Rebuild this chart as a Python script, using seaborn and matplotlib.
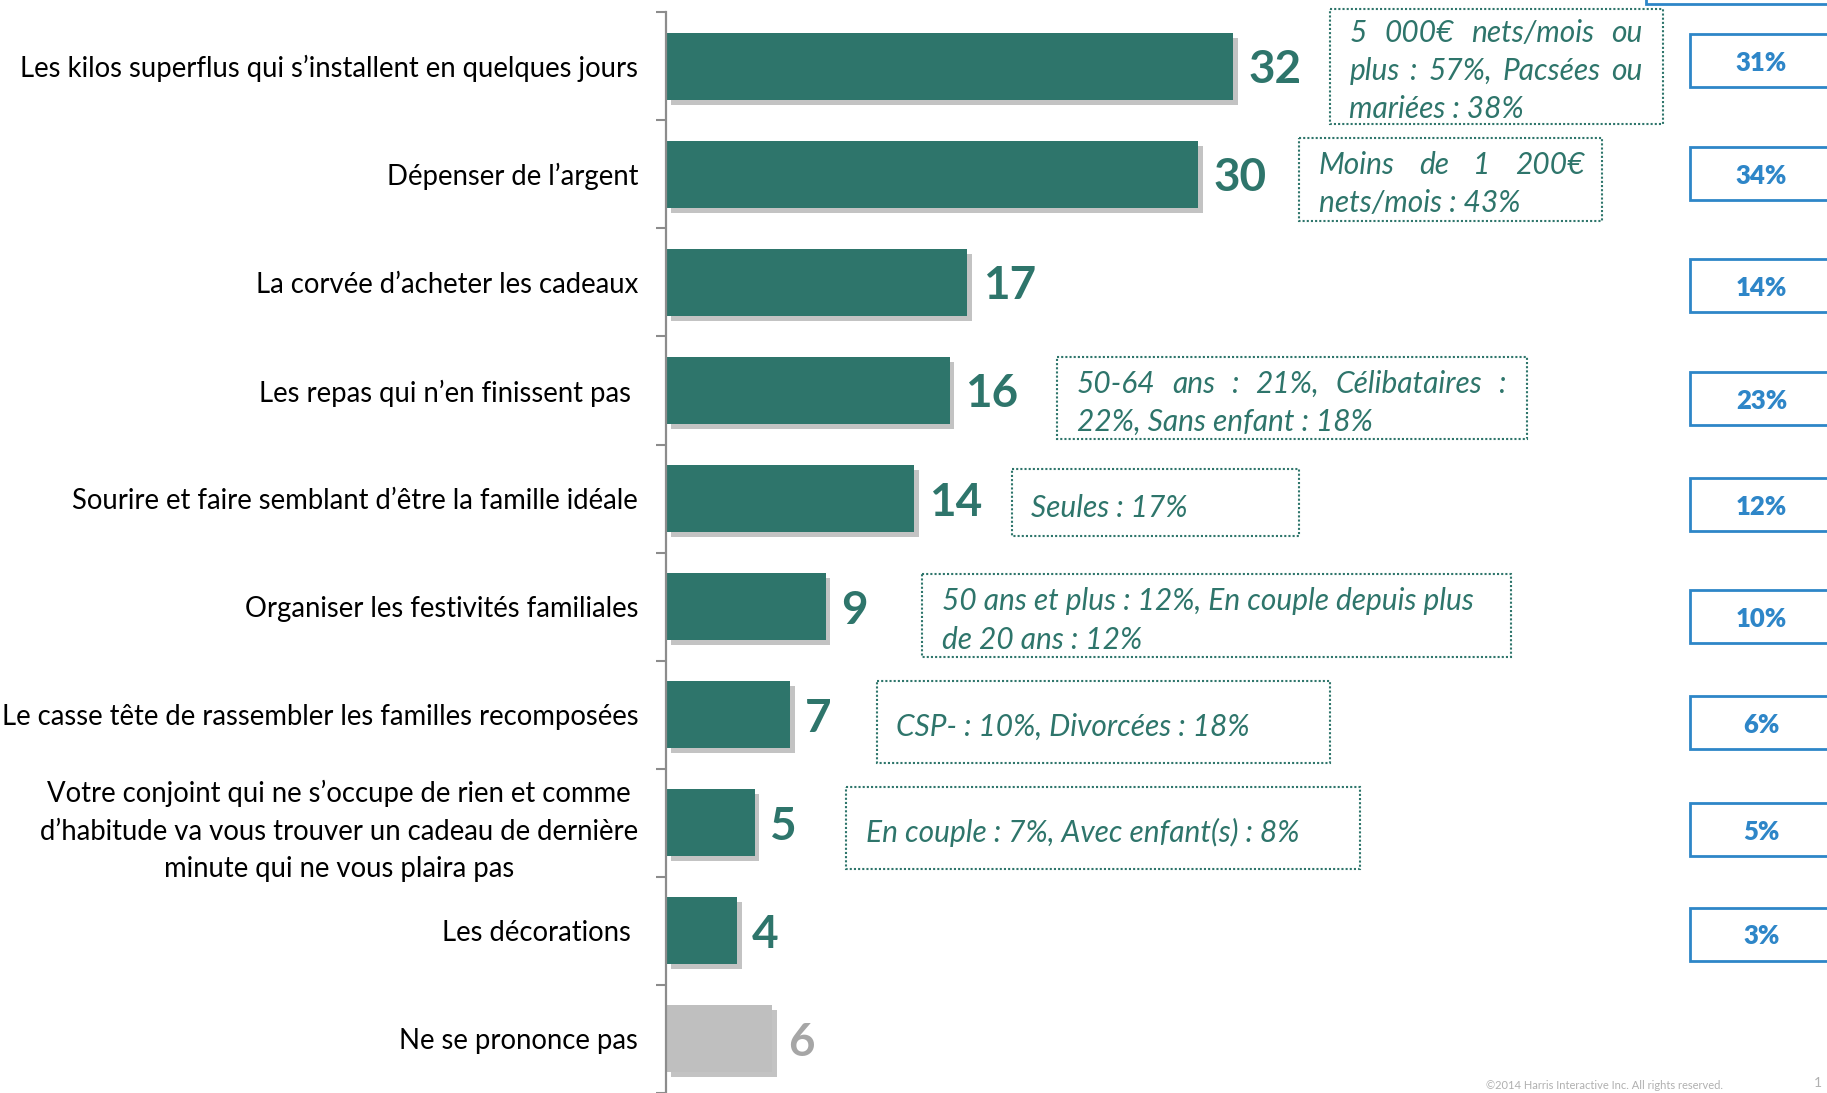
import numpy as np
import pandas as pd
import matplotlib
matplotlib.use("Agg")
import matplotlib.pyplot as plt
import matplotlib.patheffects as pe
from matplotlib.patches import Rectangle
import seaborn as sns

# ---------------- data ----------------
categories = [
    "Les kilos superflus qui s\u2019installent en quelques jours",
    "D\u00e9penser de l\u2019argent",
    "La corv\u00e9e d\u2019acheter les cadeaux",
    "Les repas qui n\u2019en finissent pas ",
    "Sourire et faire semblant d\u2019\u00eatre la famille id\u00e9ale",
    "Organiser les festivit\u00e9s familiales",
    "Le casse t\u00eate de rassembler les familles recompos\u00e9es",
    "Votre conjoint qui ne s\u2019occupe de rien et comme\nd\u2019habitude va vous trouver un cadeau de derni\u00e8re\nminute qui ne vous plaira pas",
    "Les d\u00e9corations ",
    "Ne se prononce pas",
]
values = [32, 30, 17, 16, 14, 9, 7, 5, 4, 6]
groups = ["main"] * 9 + ["nsp"]
comparison = ["31%", "34%", "14%", "23%", "12%", "10%", "6%", "5%", "3%", None]

ann_rows = [0, 1, 3, 4, 5, 6, 7]
ann_lines = [
    ["5 000\u20ac nets/mois ou", "plus : 57%, Pacs\u00e9es ou", "mari\u00e9es : 38%"],
    ["Moins de 1 200\u20ac", "nets/mois : 43%"],
    ["50-64 ans : 21%, C\u00e9libataires :", "22%, Sans enfant : 18%"],
    ["Seules : 17%"],
    ["50 ans et plus : 12%, En couple depuis plus", "de 20 ans : 12%"],
    ["CSP- : 10%, Divorc\u00e9es : 18%"],
    ["En couple : 7%, Avec enfant(s) : 8%"],
]

# ---------------- layout (not data) ----------------
ann_boxes = [  # x0, x1, y0, y1 in data units
    (37.45, 56.24, -0.53, 0.53),
    (35.74, 52.83, 0.66, 1.43),
    (22.08, 48.55, 2.69, 3.45),
    (19.51, 35.74, 3.73, 4.35),
    (14.45, 47.70, 4.70, 5.47),
    (11.89, 37.45, 5.69, 6.45),
    (10.18, 39.16, 6.67, 7.43),
]
ann_justify_right = [55.1, 51.8, 47.4, None, None, None, None]
comp_offsets = [-0.05, -0.005, 0.03, 0.075, 0.055, 0.095, 0.075, 0.065, 0.03, 0]

TEAL = "#2e756b"
GREY_BAR = "#bfbfbf"
GREY_TXT = "#a6a6a6"
BLUE = "#2e86c8"

sns.set_theme(style="white")
plt.rcParams["font.family"] = ["Lato", "DejaVu Sans"]

W, H = 1827, 1093
fig = plt.figure(figsize=(W / 100, H / 100), dpi=100)
ax_left = 666 / W
ax_top = 1 - 12.2 / H
ax = fig.add_axes([ax_left, 0, 1 - ax_left, ax_top])

df = pd.DataFrame({"cat": categories, "val": values, "grp": groups})
sns.barplot(data=df, x="val", y="cat", hue="grp", dodge=False, width=0.62,
            palette={"main": TEAL, "nsp": GREY_BAR}, legend=False, ax=ax,
            saturation=1, edgecolor="none")

for p in ax.patches:
    p.set_path_effects([pe.SimplePatchShadow(offset=(3.5, -3.5), shadow_rgbFace="#7a7a7a", alpha=0.45),
                        pe.Normal()])

for cont in ax.containers:
    labels = ax.bar_label(cont, padding=11, fontsize=33, fontweight="bold", color=TEAL)
    for t in labels:
        t.set_va("center_baseline")
for t in ax.texts:
    if t.get_text() == "6":
        t.set_color(GREY_TXT)

ax.set_xlim(0, 65.5)
ax.set_ylim(9.47, -0.5)
ax.set_xlabel("")
ax.set_ylabel("")
ax.xaxis.set_visible(False)
for s in ["top", "right", "bottom"]:
    ax.spines[s].set_visible(False)
ax.spines["left"].set_color("#8c8c8c")
ax.spines["left"].set_linewidth(1.6)

ax.tick_params(axis="y", which="major", length=0, pad=20, labelsize=19.8, labelcolor="black")
ax.set_yticks(np.arange(-0.5, len(categories), 1), minor=True)
ax.tick_params(axis="y", which="minor", length=7, width=1.5, color="#8c8c8c", left=True)
for lbl in ax.get_yticklabels():
    lbl.set_multialignment("center")
    lbl.set_linespacing(1.55)

# comparison boxes on the right
for i, c in enumerate(comparison):
    if c is None:
        continue
    yc = i + comp_offsets[i]
    ax.add_patch(Rectangle((57.75, yc - 0.245), 12, 0.49, fill=True, facecolor="white",
                           edgecolor=BLUE, lw=2, clip_on=False))
    ax.text(61.8, yc, c, ha="center", va="center_baseline", fontsize=18.5, fontweight="heavy", color=BLUE)
# partial header box at top
ax.add_patch(Rectangle((55.3, -1.6), 15, 1.02, fill=False, edgecolor=BLUE, lw=2, clip_on=False))

# annotation boxes
fig.canvas.draw()
renderer = fig.canvas.get_renderer()
inv = ax.transData.inverted()
line_step = 0.355
akw = dict(fontsize=21.5, fontstyle="italic", color=TEAL, va="center_baseline", ha="left")
for k, (row, lines) in enumerate(zip(ann_rows, ann_lines)):
    x0, x1, y0, y1 = ann_boxes[k]
    ax.add_patch(Rectangle((x0, y0), x1 - x0, y1 - y0, fill=False, edgecolor=TEAL,
                           lw=1.5, linestyle=(0, (1, 1)), clip_on=False))
    yc = (y0 + y1) / 2 + 0.02
    n = len(lines)
    tx = x0 + 1.1
    for j, line in enumerate(lines):
        y = yc + (j - (n - 1) / 2) * line_step
        xr = ann_justify_right[k]
        if xr is not None and j < n - 1:
            words = line.split()
            ts = [ax.text(0, y, w, **akw) for w in words]
            widths = []
            for t in ts:
                bb = t.get_window_extent(renderer)
                d0 = inv.transform((bb.x0, bb.y0))
                d1 = inv.transform((bb.x1, bb.y0))
                widths.append(d1[0] - d0[0])
            gap = (xr - tx - sum(widths)) / max(len(words) - 1, 1)
            x = tx
            for t, w in zip(ts, widths):
                t.set_x(x)
                x += w + gap
        else:
            ax.text(tx, y, line, **akw)

fig.text(1486 / W, 0.002, "\u00a92014 Harris Interactive Inc. All rights reserved.",
         fontsize=8, color="#b0b0b0", ha="left", va="bottom")
fig.text(0.997, 0.004, "1", fontsize=10, color="#b0b0b0", ha="right", va="bottom")

fig.savefig("out.png", dpi=100)
